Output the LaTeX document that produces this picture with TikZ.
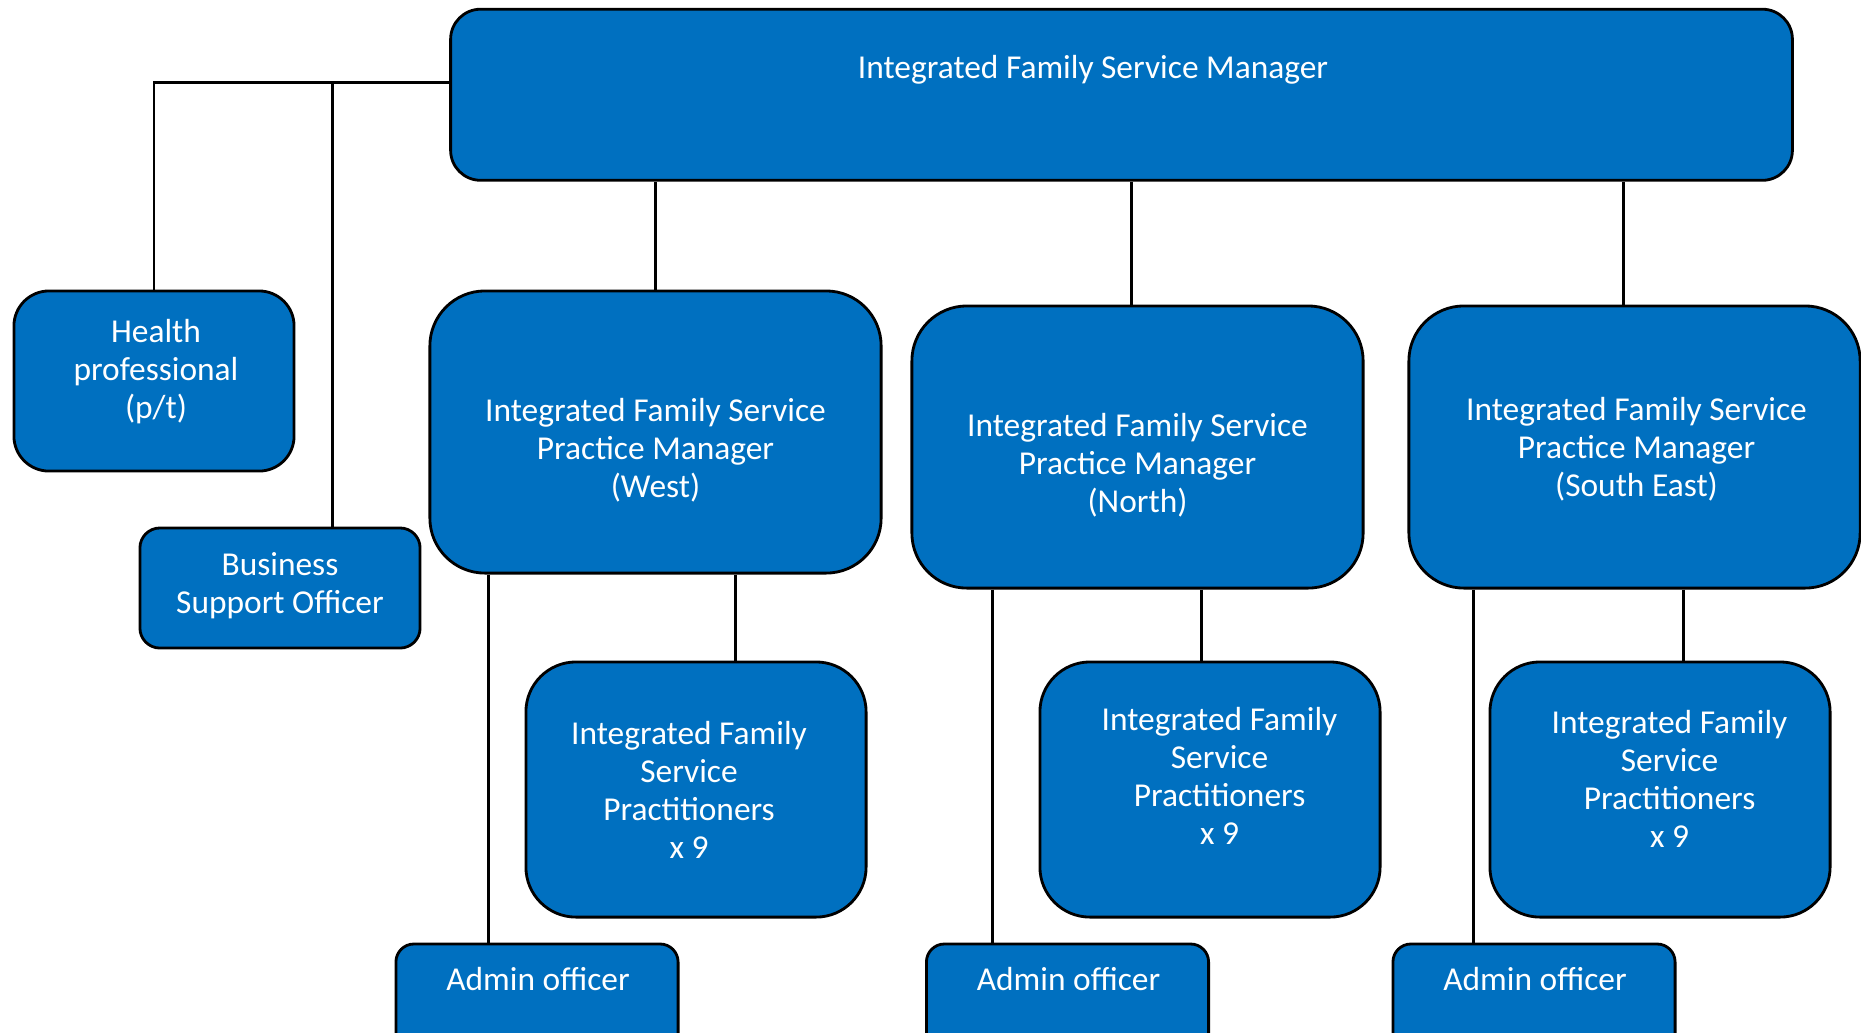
\documentclass[tikz,border=0pt]{standalone}
\usepackage{fontspec}
\setmainfont{Carlito}
\definecolor{ifsblue}{RGB}{0,112,192}
\tikzset{
  post/.style={draw=black, line width=0.8pt, fill=ifsblue, inner sep=0pt},
  say/.style={text=white, align=center, inner sep=0pt, font=\fontsize{9.5}{10.8}\selectfont},
  link/.style={draw=black, line width=0.85pt},
}

\begin{document}
\begin{tikzpicture}[x=0.01cm, y=-0.01cm]
\useasboundingbox (0,0) rectangle (1861,1032);
% manager
\node[post, rounded corners=0.3cm, minimum width=13.41cm, minimum height=1.71cm,
      label={[say, xshift=-0.285cm, yshift=0.25cm]center:Integrated Family Service Manager}] (m) at (1121.5,94.75) {};
% side posts
\node[post, rounded corners=0.35cm, minimum width=2.8cm, minimum height=1.8cm,
      label={[say, xshift=0.02cm, yshift=0.095cm]center:Health\\professional\\(p/t)}] (hp) at (154,381) {};
\node[post, rounded corners=0.2cm, minimum width=2.8cm, minimum height=1.2cm,
      label={[say, yshift=0.024cm]center:Business\\Support Officer}] (bs) at (280,588) {};
% practice managers
\node[post, rounded corners=0.55cm, minimum width=4.51cm, minimum height=2.82cm,
      label={[say, yshift=-0.18cm]center:Integrated Family Service\\Practice Manager\\(West)}] (pw) at (655.5,432) {};
\node[post, rounded corners=0.55cm, minimum width=4.51cm, minimum height=2.82cm,
      label={[say, yshift=-0.18cm]center:Integrated Family Service\\Practice Manager\\(North)}] (pn) at (1137.5,447) {};
\node[post, rounded corners=0.55cm, minimum width=4.51cm, minimum height=2.82cm,
      label={[say, xshift=0.02cm, yshift=-0.024cm]center:Integrated Family Service\\Practice Manager\\(South East)}] (ps) at (1634.5,447) {};
% practitioners
\node[post, rounded corners=0.5cm, minimum width=3.4cm, minimum height=2.55cm,
      label={[say, xshift=-0.07cm]center:Integrated Family\\Service\\Practitioners\\x 9}] (rw) at (696,789.5) {};
\node[post, rounded corners=0.5cm, minimum width=3.4cm, minimum height=2.55cm,
      label={[say, xshift=0.095cm, yshift=0.14cm]center:Integrated Family\\Service\\Practitioners\\x 9}] (rn) at (1210,789.5) {};
\node[post, rounded corners=0.5cm, minimum width=3.4cm, minimum height=2.55cm,
      label={[say, xshift=0.095cm, yshift=0.107cm]center:Integrated Family\\Service\\Practitioners\\x 9}] (rs) at (1660,789.5) {};
% admin
\node[post, rounded corners=0.18cm, minimum width=2.82cm, minimum height=1.1cm,
      label={[say, xshift=0.01cm, yshift=0.2cm]center:Admin officer}] (aw) at (537,999) {};
\node[post, rounded corners=0.18cm, minimum width=2.82cm, minimum height=1.1cm,
      label={[say, xshift=0.01cm, yshift=0.2cm]center:Admin officer}] (an) at (1067.5,999) {};
\node[post, rounded corners=0.18cm, minimum width=2.82cm, minimum height=1.1cm,
      label={[say, xshift=0.01cm, yshift=0.2cm]center:Admin officer}] (as) at (1534,999) {};

% drop lines
\coordinate (xb) at (332,0);
\coordinate (xn) at (1131,0);
\coordinate (xs) at (1623,0);
\coordinate (xwr) at (735,0);
\coordinate (xwa) at (488,0);
\coordinate (xnr) at (1201,0);
\coordinate (xna) at (992,0);
\coordinate (xsr) at (1683,0);
\coordinate (xsa) at (1473,0);

\draw[link] ([yshift=0.12cm]m.west) -| (hp.north);
\draw[link] (xb |- bs.north) |- ([yshift=0.12cm]m.west);
\draw[link] (pw.north) -- (pw.north |- m.south);
\draw[link] (xn |- m.south) -- (xn |- pn.north);
\draw[link] (xs |- m.south) -- (xs |- ps.north);
\draw[link] (xwr |- pw.south) -- (xwr |- rw.north);
\draw[link] (xwa |- pw.south) -- (xwa |- aw.north);
\draw[link] (xnr |- pn.south) -- (xnr |- rn.north);
\draw[link] (xna |- pn.south) -- (xna |- an.north);
\draw[link] (xsr |- ps.south) -- (xsr |- rs.north);
\draw[link] (xsa |- ps.south) -- (xsa |- as.north);
\end{tikzpicture}
\end{document}
